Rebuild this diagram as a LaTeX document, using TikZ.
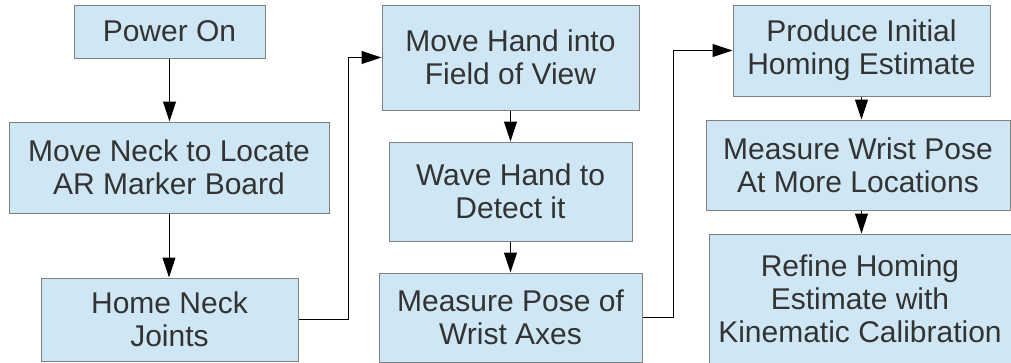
\documentclass[tikz,border=0pt]{standalone}
\usepackage{fontspec}
\setmainfont{Liberation Sans}
\usetikzlibrary{arrows.meta}
\definecolor{boxfill}{RGB}{207,231,245}
\definecolor{boxline}{RGB}{128,128,128}
\definecolor{boxtext}{RGB}{51,51,51}
\tikzset{
  stepbox/.style={draw=boxline, fill=boxfill, line width=1pt, inner sep=0pt,
    align=center, text=boxtext, font=\fontsize{30}{33}\selectfont},
  flow/.style={draw=black, line width=1pt, -{Triangle[length=20pt,width=13pt]}}
}
% place a box by its pixel corners (x1,y1) and (x2,y2)
\newcommand{\flowbox}[6]{%
  \pgfmathsetmacro{\bw}{#4-#2}%
  \pgfmathsetmacro{\bh}{#5-#3}%
  \node[stepbox, minimum width=\bw pt, minimum height=\bh pt]
    (#1) at ({(#2+#4)/2},{(#3+#5)/2}) {#6};%
}
\begin{document}
\begin{tikzpicture}[x=1pt,y=-1pt]
\useasboundingbox (0,0) rectangle (1011,362);
% left column
\flowbox{power}{74}{5}{265}{58}{Power On}
\flowbox{neck}{9}{122}{329}{213}{Move Neck to Locate\\AR Marker Board}
\flowbox{home}{41}{278}{298}{361}{Home Neck\\Joints}
% middle column
\flowbox{hand}{382}{5}{639}{110}{Move Hand into\\Field of View}
\flowbox{wave}{389}{142}{632}{241}{Wave Hand to\\Detect it}
\flowbox{pose}{379}{273}{642}{362}{Measure Pose of\\Wrist Axes}
% right column
\flowbox{prod}{733}{5}{990}{96}{Produce Initial\\Homing Estimate}
\flowbox{wrist}{706}{120}{1010}{210}{Measure Wrist Pose\\At More Locations}
\flowbox{refine}{709}{234}{1011}{364}{Refine Homing\\Estimate with\\Kinematic Calibration}
% connectors
\draw[flow] (power.south) -- (power.south |- neck.north);
\draw[flow] (neck.south) -- (neck.south |- home.north);
\draw[flow] (home.east) -- ++(50,0) |- (hand.west);
\draw[flow] (hand.south) -- (hand.south |- wave.north);
\draw[flow] (wave.south) -- (wave.south |- pose.north);
\draw[flow] (pose.east) -- ++(31,0) |- (prod.west);
\draw[flow] (prod.south) -- (prod.south |- wrist.north);
\draw[flow] (wrist.south -| prod.south) -- (prod.south |- refine.north);
\end{tikzpicture}
\end{document}
